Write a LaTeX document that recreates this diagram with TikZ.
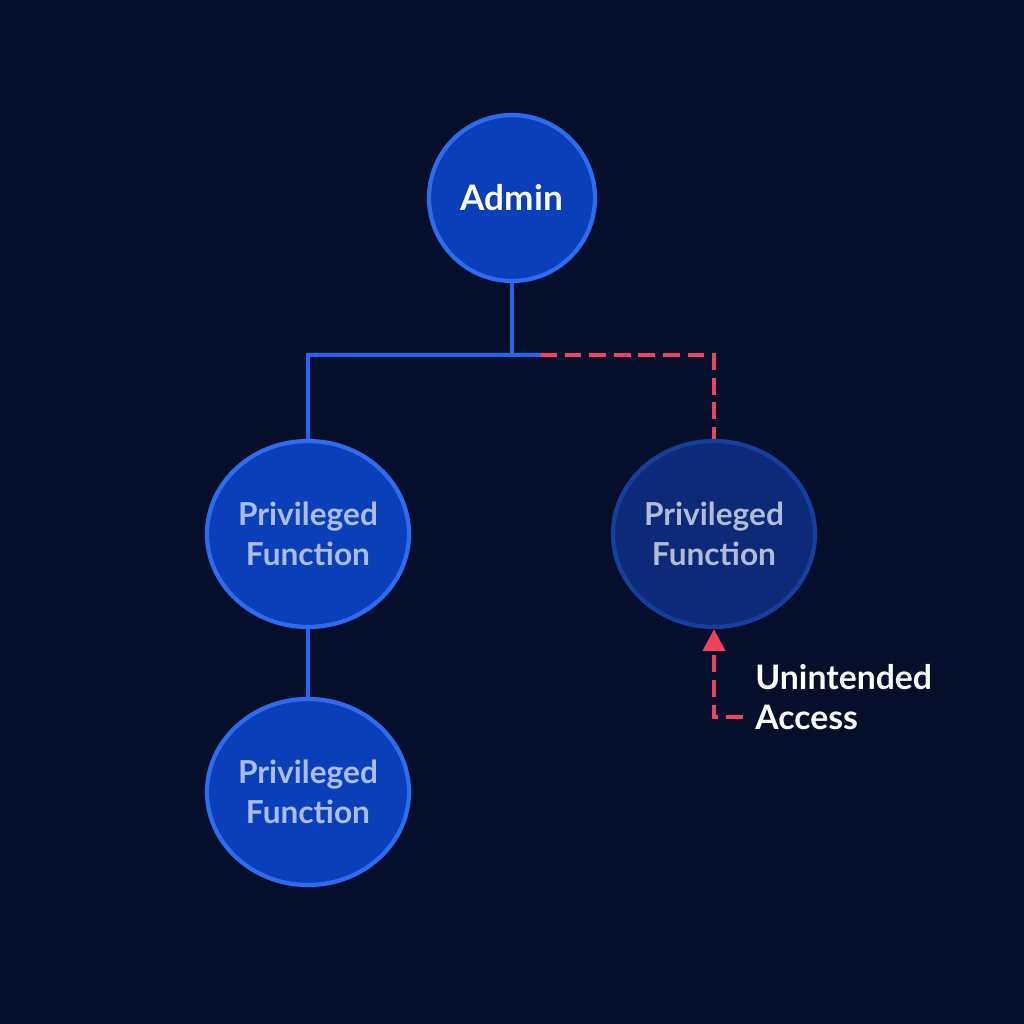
\documentclass[tikz,border=0pt]{standalone}
\usepackage{fontspec}
\setmainfont{Lato}
\usetikzlibrary{shapes.geometric,arrows.meta}

\definecolor{nightbg}{HTML}{050F2C}
\definecolor{roleblue}{HTML}{0B3FBA}
\definecolor{roleedge}{HTML}{2D6CF0}
\definecolor{dimfill}{HTML}{0C2A78}
\definecolor{dimedge}{HTML}{153F9E}
\definecolor{wireblue}{HTML}{1F66F5}
\definecolor{leakred}{HTML}{F0435A}
\definecolor{paletext}{HTML}{A9BDE6}
\definecolor{dimtext}{HTML}{B0BCD8}

\tikzset{role/.style = {circle, draw=roleedge, fill=roleblue, line width=1.2pt,
                        minimum size=#1, inner sep=0pt, text=white,
                        font=\fontsize{10}{12}\selectfont\bfseries},
         role/.default=1.66cm,
         priv/.style = {ellipse, draw=roleedge, fill=roleblue, line width=1.2pt,
                        minimum width=2.02cm, minimum height=1.86cm, inner sep=0pt,
                        align=center, text=paletext,
                        font=\fontsize{9}{11.3}\selectfont\bfseries},
         privdim/.style = {priv, draw=dimedge, fill=dimfill, text=dimtext},
         link/.style = {draw=wireblue, line width=1.1pt},
         leak/.style = {draw=leakred, line width=1.3pt, dash pattern=on 4.8pt off 2.2pt}
        }

\begin{document}
\begin{tikzpicture}
  \fill[nightbg] (0,0) rectangle (10.24,10.24);
  \useasboundingbox (0,0) rectangle (10.24,10.24);

  % nodes
  \node[role]    (admin) at (5.12,8.26) {Admin};
  \node[priv]    (privA) at (3.08,4.90) {Privileged\\Function};
  \node[priv]    (privB) at (3.08,2.32) {Privileged\\Function};
  \node[privdim] (privC) at (7.14,4.90) {Privileged\\Function};
  \node[anchor=west, align=left, text=white,
        font=\fontsize{9.6}{11.3}\selectfont\bfseries] (note) at (7.43,3.27) {Unintended\\Access};

  \coordinate (junction) at (5.12,6.69);
  \coordinate (split) at (5.40,6.69);
  \coordinate (sneak) at (7.43,3.07);

  % connectors
  \draw[link] (admin.south) -- (junction);
  \draw[link] (split) -| (privA.north);
  \draw[link] (privA.south) -- (privB.north);
  \draw[leak] (split) -| (privC.north);
  \draw[leak, -{Triangle[length=2.2mm, width=2.2mm]}] (sneak) -| (privC.south);
\end{tikzpicture}
\end{document}
